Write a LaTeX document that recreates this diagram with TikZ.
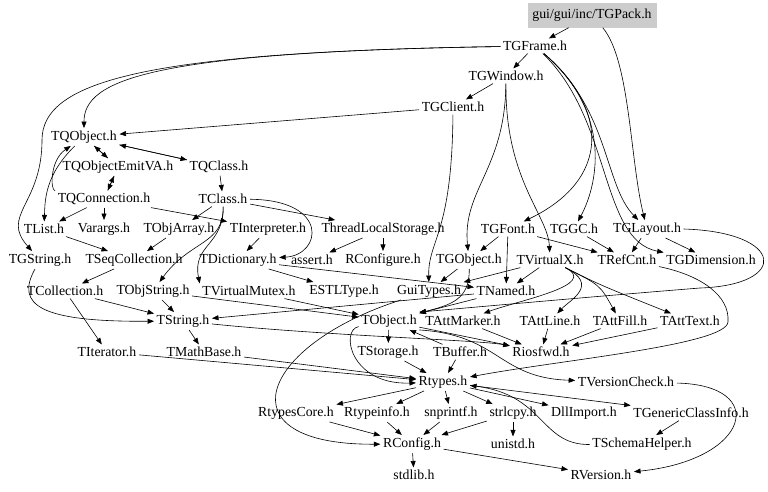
\documentclass[tikz,border=0pt]{standalone}
\usepackage{fontspec}
\setmainfont{Liberation Serif}
\usetikzlibrary{arrows.meta}

\definecolor{rootgray}{RGB}{204,204,204}

\begin{document}
\begin{tikzpicture}[x=1pt,y=-1pt,
  hfile/.style={inner sep=2.5pt,font=\fontsize{13.8}{16}\selectfont},
  incl/.style={-{Triangle[length=6.5pt,width=5pt]},line width=0.6pt}]

% Page size of the graph
\useasboundingbox (0,0) rectangle (768,491);

% Root header
\node[hfile,fill=rootgray,minimum width=129pt,minimum height=25pt] (TGPack) at (592,15) {gui/gui/inc/TGPack.h};

% GUI headers
\node[hfile] (TGFrame) at (535,46) {TGFrame.h};
\node[hfile] (TGWindow) at (506,76) {TGWindow.h};
\node[hfile] (TGClient) at (453,107) {TGClient.h};

% Signal/slot headers
\node[hfile] (TQObject) at (84,137) {TQObject.h};
\node[hfile] (TQObjectEmitVA) at (118,167) {TQObjectEmitVA.h};
\node[hfile] (TQClass) at (219,167) {TQClass.h};
\node[hfile] (TQConnection) at (104,199) {TQConnection.h};
\node[hfile] (TClass) at (223,199) {TClass.h};

% Row of TList.h
\node[hfile] (TList) at (44,229) {TList.h};
\node[hfile] (Varargs) at (104,229) {Varargs.h};
\node[hfile] (TObjArray) at (179,229) {TObjArray.h};
\node[hfile] (TInterpreter) at (268,229) {TInterpreter.h};
\node[hfile] (ThreadLocalStorage) at (383,229) {ThreadLocalStorage.h};
\node[hfile] (TGFont) at (508,229) {TGFont.h};
\node[hfile] (TGGC) at (574,229) {TGGC.h};
\node[hfile] (TGLayout) at (647,229) {TGLayout.h};

% Row of TGString.h
\node[hfile] (TGString) at (40,260) {TGString.h};
\node[hfile] (TSeqCollection) at (134,260) {TSeqCollection.h};
\node[hfile] (TDictionary) at (238,260) {TDictionary.h};
\node[hfile] (assert) at (312,260) {assert.h};
\node[hfile] (RConfigure) at (383,260) {RConfigure.h};
\node[hfile] (TGObject) at (469,260) {TGObject.h};
\node[hfile] (TVirtualX) at (550,260) {TVirtualX.h};
\node[hfile] (TRefCnt) at (627,260) {TRefCnt.h};
\node[hfile] (TGDimension) at (711,260) {TGDimension.h};

% Row of TCollection.h
\node[hfile] (TCollection) at (65,291) {TCollection.h};
\node[hfile] (TObjString) at (153,291) {TObjString.h};
\node[hfile] (TVirtualMutex) at (249,291) {TVirtualMutex.h};
\node[hfile] (ESTLType) at (344,291) {ESTLType.h};
\node[hfile] (GuiTypes) at (429,291) {GuiTypes.h};
\node[hfile] (TNamed) at (506,291) {TNamed.h};

% Row of TString.h
\node[hfile] (TString) at (183,321) {TString.h};
\node[hfile] (TObject) at (389,321) {TObject.h};
\node[hfile] (TAttMarker) at (463,321) {TAttMarker.h};
\node[hfile] (TAttLine) at (550,321) {TAttLine.h};
\node[hfile] (TAttFill) at (620,321) {TAttFill.h};
\node[hfile] (TAttText) at (690,321) {TAttText.h};

% Row of TIterator.h
\node[hfile] (TIterator) at (107,352) {TIterator.h};
\node[hfile] (TMathBase) at (204,352) {TMathBase.h};
\node[hfile] (TStorage) at (388,352) {TStorage.h};
\node[hfile] (TBuffer) at (460,352) {TBuffer.h};
\node[hfile] (Riosfwd) at (541,352) {Riosfwd.h};

% Core headers
\node[hfile] (Rtypes) at (443,382) {Rtypes.h};
\node[hfile] (TVersionCheck) at (626,382) {TVersionCheck.h};
\node[hfile] (RtypesCore) at (296,413) {RtypesCore.h};
\node[hfile] (Rtypeinfo) at (377,413) {Rtypeinfo.h};
\node[hfile] (snprintf) at (451,413) {snprintf.h};
\node[hfile] (strlcpy) at (513,413) {strlcpy.h};
\node[hfile] (DllImport) at (584,413) {DllImport.h};
\node[hfile] (TGenericClassInfo) at (691,413) {TGenericClassInfo.h};
\node[hfile] (RConfig) at (412,444) {RConfig.h};
\node[hfile] (unistd) at (513,444) {unistd.h};
\node[hfile] (TSchemaHelper) at (642,444) {TSchemaHelper.h};
\node[hfile] (stdlib) at (414,475) {stdlib.h};
\node[hfile] (RVersion) at (601,475) {RVersion.h};

% Includes of TGPack.h
\draw[incl] (TGPack) -- (TGFrame);
\draw[incl] (TGPack) .. controls (630,60) and (630,160) .. (TGLayout);

% Includes of TGFrame.h
\draw[incl] (TGFrame) -- (TGWindow);
\draw[incl] (TGFrame) .. controls (150,52) and (84,80) .. (TQObject);
\draw[incl] (TGFrame) .. controls (150,52) and (42,80) .. (42,140) .. controls (42,205) and (0,215) .. (TGString);
\draw[incl] (TGFrame) .. controls (610,110) and (610,180) .. (TGFont);
\draw[incl] (TGFrame) .. controls (610,110) and (600,180) .. (TGGC);
\draw[incl] (TGFrame) .. controls (610,110) and (604,185) .. (TGLayout);
\draw[incl] (TGFrame) .. controls (612,120) and (600,240) .. (TGDimension.north west);

% Includes of TGWindow.h and TGClient.h
\draw[incl] (TGWindow) -- (TGClient);
\draw[incl] (TGWindow) .. controls (505,170) and (462,190) .. (TGObject);
\draw[incl] (TGWindow) .. controls (505,180) and (548,215) .. (TVirtualX);
\draw[incl] (TGClient) -- (TQObject);
\draw[incl] (TGClient) .. controls (452,235) and (428,240) .. (GuiTypes);

% Signal/slot cycle
\draw[incl] (TQObject) -- (TQObjectEmitVA);
\draw[incl] (TQObjectEmitVA) -- (TQObject);
\draw[incl] (TQObject) -- (TQClass);
\draw[incl] (TQClass) -- (TQObject);
\draw[incl] (TQObjectEmitVA) -- (TQConnection);
\draw[incl] (TQConnection) -- (TQObjectEmitVA);
\draw[incl] (TQConnection) .. controls (50,190) and (50,160) .. (TQObject);
\draw[incl] (TQObject) .. controls (45,175) and (45,200) .. (TList);
\draw[incl] (TQClass) -- (TClass);

% Includes of TQConnection.h and TClass.h
\draw[incl] (TQConnection) -- (TList);
\draw[incl] (TQConnection) -- (Varargs);
\draw[incl] (TQConnection) -- (TInterpreter);
\draw[incl] (TClass) -- (TObjArray);
\draw[incl] (TClass) -- (ThreadLocalStorage);
\draw[incl] (TClass) .. controls (330,200) and (322,255) .. (TDictionary);
\draw[incl] (TClass) .. controls (224,245) and (190,240) .. (TObjString);
\draw[incl] (TClass) .. controls (224,245) and (192,245) .. (TVirtualMutex.north west);
\draw[incl] (TInterpreter) -- (TDictionary);
\draw[incl] (ThreadLocalStorage) -- (assert);
\draw[incl] (ThreadLocalStorage) -- (RConfigure);

% Collections
\draw[incl] (TList) -- (TSeqCollection);
\draw[incl] (TObjArray) -- (TSeqCollection);
\draw[incl] (TSeqCollection) -- (TCollection);
\draw[incl] (TCollection) -- (TIterator);
\draw[incl] (TCollection) -- (TString);
\draw[incl] (TObjString) -- (TString);
\draw[incl] (TObjString) -- (TObject);
\draw[incl] (TVirtualMutex) -- (TObject);
\draw[incl] (TGString) .. controls (15,305) and (40,322) .. (TString);
\draw[incl] (TDictionary) -- (ESTLType);
\draw[incl] (TDictionary) -- (TNamed);

% GUI object headers
\draw[incl] (TGObject) .. controls (470,300) and (450,305) .. (TObject);
\draw[incl] (TGObject) -- (GuiTypes);
\draw[incl] (TGFont) -- (TGObject);
\draw[incl] (TGFont) -- (TNamed);
\draw[incl] (TGFont) -- (TRefCnt);
\draw[incl] (TGGC) -- (TRefCnt);
\draw[incl] (TGLayout) -- (TRefCnt);
\draw[incl] (TGLayout) -- (TGDimension);
\draw[incl] (TGLayout.east) .. controls (785,232) and (790,285) .. (700,288) .. controls (600,296) and (500,305) .. (TObject.north east);
\draw[incl] (TRefCnt) .. controls (700,275) and (730,295) .. (728,322) .. controls (726,345) and (560,360) .. (Rtypes);

% Includes of TVirtualX.h
\draw[incl] (TVirtualX) -- (TNamed);
\draw[incl] (TVirtualX) -- (GuiTypes);
\draw[incl] (TVirtualX) .. controls (600,285) and (520,300) .. (TAttMarker);
\draw[incl] (TVirtualX) .. controls (600,285) and (570,300) .. (TAttLine);
\draw[incl] (TVirtualX) .. controls (600,285) .. (TAttFill);
\draw[incl] (TVirtualX) .. controls (600,285) .. (TAttText);

% TNamed.h and TString.h
\draw[incl] (TNamed) -- (TObject);
\draw[incl] (TNamed) -- (TString);
\draw[incl] (TString) -- (TMathBase);
\draw[incl] (TString) .. controls (330,336) and (480,340) .. (Riosfwd);

% Attribute headers
\draw[incl] (TAttMarker) -- (Riosfwd);
\draw[incl] (TAttLine) -- (Riosfwd);
\draw[incl] (TAttFill) -- (Riosfwd);
\draw[incl] (TAttText) -- (Riosfwd);

% Includes of TObject.h
\draw[incl] (TObject) -- (TStorage);
\draw[incl] (TBuffer) -- (TObject);
\draw[incl] (TObject) -- (Riosfwd);
\draw[incl] (TObject) .. controls (340,330) and (350,385) .. (Rtypes);
\draw[incl] (TObject.south east) .. controls (500,335) and (498,378) .. (TVersionCheck);
\draw[incl] (GuiTypes) .. controls (260,345) and (220,445) .. (RConfig);

% Down to Rtypes.h
\draw[incl] (TStorage) -- (Rtypes);
\draw[incl] (TBuffer) -- (Rtypes);
\draw[incl] (TIterator) -- (Rtypes);
\draw[incl] (TMathBase) -- (Rtypes);

% Includes of Rtypes.h
\draw[incl] (Rtypes) -- (RtypesCore);
\draw[incl] (Rtypes) -- (Rtypeinfo);
\draw[incl] (Rtypes) -- (snprintf);
\draw[incl] (Rtypes) -- (strlcpy);
\draw[incl] (Rtypes) -- (DllImport);
\draw[incl] (Rtypes) -- (TGenericClassInfo);
\draw[incl] (TGenericClassInfo) -- (TSchemaHelper);
\draw[incl] (TSchemaHelper) .. controls (540,445) and (545,395) .. (Rtypes);

% Bottom of the graph
\draw[incl] (RtypesCore) -- (RConfig);
\draw[incl] (Rtypeinfo) -- (RConfig);
\draw[incl] (snprintf) -- (RConfig);
\draw[incl] (strlcpy) -- (RConfig);
\draw[incl] (strlcpy) -- (unistd);
\draw[incl] (RConfig) -- (stdlib);
\draw[incl] (RConfig) -- (RVersion);
\draw[incl] (TVersionCheck) .. controls (770,385) and (750,460) .. (RVersion);

\end{tikzpicture}
\end{document}
